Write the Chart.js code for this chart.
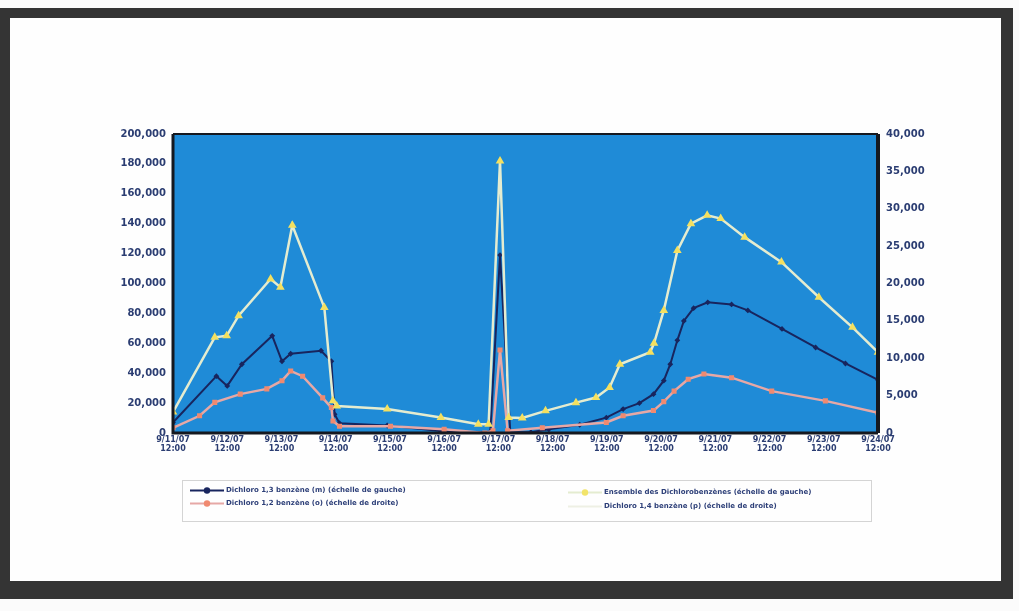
<!DOCTYPE html>
<html>
<head>
<meta charset="utf-8">
<script src="https://cdn.jsdelivr.net/npm/chart.js@4.4.1/dist/chart.umd.min.js"></script>
<style>
  html, body { margin: 0; padding: 0; background: #fbfbfb; }
  #page { position: relative; width: 1019px; height: 611px; overflow: hidden; background: #fbfbfb; }
  #frame { position: absolute; left: 0px; top: 8px; width: 991px; height: 563px;
           border-style: solid; border-color: #343434; border-width: 10px 12px 18px 10px; background: #fefefe; }
  #chartWrap { position: absolute; left: 90px; top: 120px; width: 860px; height: 350px; }
  #legendBox { position: absolute; left: 182px; top: 480px; width: 688px; height: 40px;
               border: 1px solid #d4d4d4; }
  .lg { position: absolute; font-family: "DejaVu Sans", sans-serif; font-weight: bold; font-size: 7px;
        color: #2d3f78; white-space: nowrap; line-height: 9px; }
  .lg canvas { vertical-align: middle; margin-right: 2px; }
</style>
</head>
<body>
<div id="page">
  <div id="frame"></div>
  <div id="chartWrap"><canvas id="c" width="860" height="350"></canvas></div>
  <div id="legendBox"></div>
</div>
<script>
// ---- data (x = days after 9/11/07 12:00) ----
const tickLabels = [
  ["9/11/07","12:00"],["9/12/07","12:00"],["9/13/07","12:00"],["9/14/07","12:00"],
  ["9/15/07","12:00"],["9/16/07","12:00"],["9/17/07","12:00"],["9/18/07","12:00"],
  ["9/19/07","12:00"],["9/20/07","12:00"],["9/21/07","12:00"],["9/22/07","12:00"],
  ["9/23/07","12:00"],["9/24/07","12:00"]
];
const seriesNames = [
  "Dichloro 1,3 benzène (m) (échelle de gauche)",
  "Dichloro 1,2 benzène (o) (échelle de droite)",
  "Ensemble des Dichlorobenzènes (échelle de gauche)",
  "Dichloro 1,4 benzène (p) (échelle de droite)"
];
const mDays   = [0, 0.8, 1.0, 1.27, 1.83, 2.01, 2.17, 2.73, 2.92, 2.98, 3.07, 3.95, 4.94, 5.4, 5.85, 6.03, 6.22, 6.6, 6.93, 7.5, 7.99, 8.3, 8.6, 8.86, 9.05, 9.17, 9.3, 9.42, 9.6, 9.86, 10.3, 10.6, 11.23, 11.85, 12.4, 13.0];
const mValues = [7000, 38000, 31500, 46000, 65000, 48000, 53000, 55000, 48000, 12500, 6500, 5000, 1300, 0, 800, 119000, 500, 500, 2500, 5500, 10300, 16000, 20000, 26000, 35000, 46000, 62000, 75000, 83500, 87400, 86000, 82000, 69600, 57200, 46500, 35500];

const oDays   = [0, 0.49, 0.77, 1.24, 1.73, 2.01, 2.17, 2.39, 2.76, 2.92, 2.95, 3.07, 4.01, 5.0, 5.75, 5.9, 6.03, 6.17, 6.81, 7.99, 8.3, 8.86, 9.05, 9.24, 9.5, 9.79, 10.3, 11.04, 12.03, 13.0];
const oValues = [700, 2300, 4100, 5200, 5900, 7000, 8300, 7600, 4700, 3400, 1600, 900, 900, 500, 0, 300, 11100, 300, 700, 1400, 2300, 3000, 4200, 5600, 7200, 7900, 7400, 5600, 4300, 2700];

const totDays   = [0, 0.77, 0.99, 1.21, 1.80, 1.98, 2.20, 2.79, 2.95, 3.02, 3.95, 4.94, 5.63, 5.82, 6.03, 6.19, 6.44, 6.87, 7.43, 7.80, 8.05, 8.24, 8.80, 8.87, 9.05, 9.30, 9.55, 9.85, 10.1, 10.54, 11.22, 11.91, 12.53, 13.0];
const totValues = [14000, 64000, 65000, 78500, 103000, 97500, 139000, 84000, 21500, 18000, 16000, 10300, 5800, 5800, 182000, 10300, 10000, 14800, 20300, 23700, 30400, 46000, 54000, 60000, 82000, 122000, 140000, 145600, 143400, 131000, 114300, 90800, 70700, 54000];

const leftTicks  = { min: 0, max: 200000, step: 20000 };
const rightTicks = { min: 0, max: 40000, step: 5000 };

function pairs(xs, ys) { return xs.map((x, i) => ({ x: x, y: ys[i] })); }
function fmt(v) { return Math.round(v).toLocaleString('en-US'); }

const plotFrame = {
  id: 'plotFrame',
  beforeDatasetsDraw(chart) {
    const a = chart.chartArea, ctx = chart.ctx;
    ctx.save();
    ctx.fillStyle = '#1f8bd7';
    ctx.fillRect(a.left, a.top, a.right - a.left, a.bottom - a.top);
    ctx.restore();
  },
  afterDraw(chart) {
    const a = chart.chartArea, ctx = chart.ctx;
    ctx.save();
    ctx.strokeStyle = '#15181f';
    ctx.lineWidth = 2; ctx.beginPath(); ctx.moveTo(a.left, a.top); ctx.lineTo(a.right, a.top); ctx.stroke();
    ctx.lineWidth = 3; ctx.beginPath(); ctx.moveTo(a.left, a.top); ctx.lineTo(a.left, a.bottom); ctx.lineTo(a.right, a.bottom); ctx.stroke();
    ctx.lineWidth = 4; ctx.beginPath(); ctx.moveTo(a.right, a.top); ctx.lineTo(a.right, a.bottom); ctx.stroke();
    ctx.restore();
  }
};

const tickFont = { family: 'DejaVu Sans', size: 10, weight: 'bold' };
const tickColor = '#2b3d72';

const chart = new Chart(document.getElementById('c'), {
  type: 'line',
  data: {
    datasets: [
      { label: seriesNames[3], data: [], yAxisID: 'yR', borderColor: '#eef0e4', backgroundColor: '#eef0e4', pointRadius: 0, borderWidth: 2 },
      { label: seriesNames[2], data: pairs(totDays, totValues), yAxisID: 'yL',
        borderColor: '#e4ecd0', backgroundColor: '#f2e46a', pointStyle: 'triangle', pointRadius: 2.5,
        pointBorderColor: '#f4e060', borderWidth: 2.5 },
      { label: seriesNames[1], data: pairs(oDays, oValues), yAxisID: 'yR',
        borderColor: '#e6a8a6', backgroundColor: '#f08a70', pointStyle: 'rect', pointRadius: 1.8,
        pointBorderColor: '#f08a70', borderWidth: 2.5 },
      { label: seriesNames[0], data: pairs(mDays, mValues), yAxisID: 'yL',
        borderColor: '#18255e', backgroundColor: '#18255e', pointStyle: 'rectRot', pointRadius: 1.5,
        borderWidth: 2 }
    ]
  },
  options: {
    responsive: false, animation: false, devicePixelRatio: 1,
    layout: { padding: { top: 4, left: 0, right: 0, bottom: 0 } },
    elements: { line: { tension: 0 } },
    plugins: { legend: { display: false }, tooltip: { enabled: false } },
    scales: {
      x: { type: 'linear', min: 0, max: 13,
           grid: { display: false, drawTicks: false }, border: { display: false },
           ticks: { stepSize: 1, autoSkip: false, maxRotation: 0, padding: 2,
                    font: { family: 'DejaVu Sans', size: 8, weight: 'bold' }, color: tickColor,
                    callback: (v) => tickLabels[v] },
           afterFit: (s) => { s.height = 37; } },
      yL: { position: 'left', min: leftTicks.min, max: leftTicks.max,
            grid: { display: false, drawTicks: false }, border: { display: false },
            ticks: { stepSize: leftTicks.step, padding: 7, font: tickFont, color: tickColor, callback: fmt },
            afterFit: (s) => { s.width = 83; } },
      yR: { position: 'right', min: rightTicks.min, max: rightTicks.max,
            grid: { display: false, drawTicks: false }, border: { display: false },
            ticks: { stepSize: rightTicks.step, padding: 8, font: tickFont, color: tickColor, callback: fmt },
            afterFit: (s) => { s.width = 72; } }
    }
  },
  plugins: [plotFrame]
});

// ---- legend built from the datasets ----
const legendPos = {};
legendPos[seriesNames[0]] = { left: 190, top: 486 };
legendPos[seriesNames[1]] = { left: 190, top: 499 };
legendPos[seriesNames[2]] = { left: 568, top: 488 };
legendPos[seriesNames[3]] = { left: 568, top: 502 };
const page = document.getElementById('page');
chart.data.datasets.forEach(ds => {
  const p = legendPos[ds.label];
  const div = document.createElement('div');
  div.className = 'lg';
  div.style.left = p.left + 'px'; div.style.top = p.top + 'px';
  const sw = document.createElement('canvas');
  sw.width = 34; sw.height = 9;
  const g = sw.getContext('2d');
  g.strokeStyle = ds.borderColor; g.lineWidth = 2;
  g.beginPath(); g.moveTo(0, 4.5); g.lineTo(34, 4.5); g.stroke();
  if (ds.pointRadius) {
    g.fillStyle = ds.backgroundColor;
    g.beginPath(); g.arc(17, 4.5, 3.2, 0, Math.PI * 2); g.fill();
  }
  div.appendChild(sw);
  div.appendChild(document.createTextNode(ds.label));
  page.appendChild(div);
});
</script>
</body>
</html>
